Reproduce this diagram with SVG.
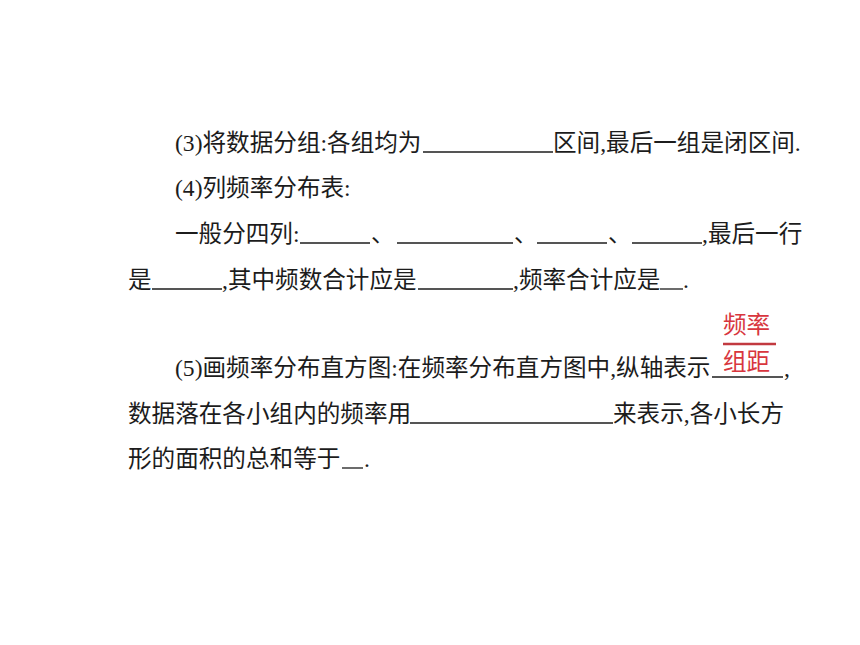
<svg xmlns="http://www.w3.org/2000/svg" width="860" height="645" viewBox="0 0 860 645">
<style>
.t{font-family:"Liberation Serif","Noto Sans CJK SC",serif;font-size:23.6px;fill:#1c1c1c}
.r{font-family:"Liberation Serif","Noto Sans CJK SC",serif;font-size:23.6px;fill:#d8363e}
.u{stroke:#1c1c1c;stroke-width:1.3;fill:none}
.bar{stroke:#c23a40;stroke-width:2.6;fill:none}
</style>
<rect width="860" height="645" fill="#ffffff"/>
<g id="item3">
<text class="t" x="175" y="151">(3)将数据分组:各组均为</text>
<line class="u" x1="423" y1="152" x2="553" y2="152"/>
<text class="t" x="553" y="151">区间,最后一组是闭区间.</text>
</g>
<g id="item4">
<text class="t" x="175" y="196">(4)列频率分布表:</text>
<text class="t" x="175" y="242">一般分四列:</text>
<line class="u" x1="300" y1="243" x2="370" y2="243"/>
<text class="t" x="371" y="242">、</text>
<line class="u" x1="397" y1="243" x2="513" y2="243"/>
<text class="t" x="514" y="242">、</text>
<line class="u" x1="537" y1="243" x2="607" y2="243"/>
<text class="t" x="608" y="242">、</text>
<line class="u" x1="632" y1="243" x2="702" y2="243"/>
<text class="t" x="702" y="242">,最后一行</text>
<text class="t" x="128" y="288">是</text>
<line class="u" x1="152" y1="289" x2="222" y2="289"/>
<text class="t" x="222" y="288">,其中频数合计应是</text>
<line class="u" x1="418" y1="289" x2="513" y2="289"/>
<text class="t" x="513" y="288">,频率合计应是</text>
<line class="u" x1="660" y1="289" x2="683" y2="289"/>
<text class="t" x="683" y="288">.</text>
</g>
<g id="item5">
<text class="t" x="175" y="376">(5)画频率分布直方图:在频率分布直方图中,纵轴表示</text>
<line class="u" x1="712" y1="377" x2="783" y2="377"/>
<text class="t" x="784" y="376">,</text>
<text class="t" x="128" y="422">数据落在各小组内的频率用</text>
<line class="u" x1="410" y1="423" x2="613" y2="423"/>
<text class="t" x="613" y="422">来表示,各小长方</text>
<text class="t" x="128" y="467">形的面积的总和等于</text>
<line class="u" x1="342" y1="468" x2="363" y2="468"/>
<text class="t" x="364" y="467">.</text>
</g>
<g id="answer-fraction">
<text class="r" x="723" y="333">频率</text>
<line class="bar" x1="723" y1="344" x2="776" y2="344"/>
<text class="r" x="723" y="370">组距</text>
</g>
</svg>
